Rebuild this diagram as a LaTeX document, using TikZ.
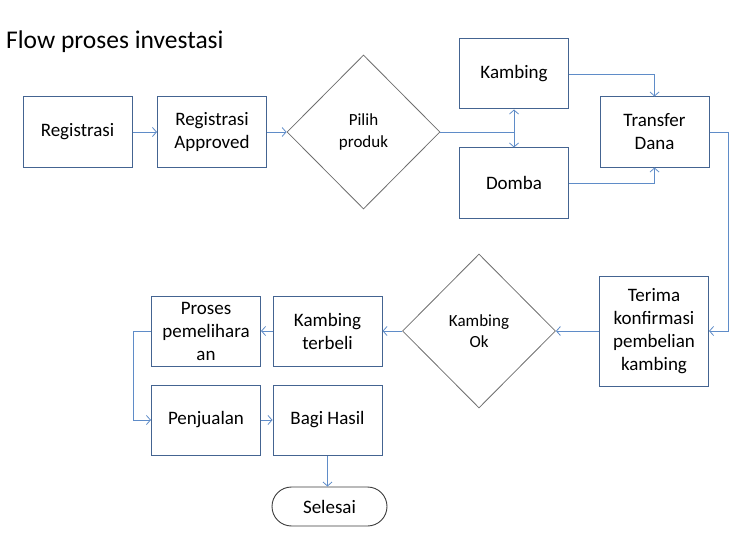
\documentclass[tikz,border=0pt]{standalone}
\usepackage{fontspec}
\setmainfont{Carlito}
\usepackage{tikz}
\usetikzlibrary{shapes.geometric}
\usetikzlibrary{arrows.meta}
\definecolor{garisbox}{RGB}{68,100,145}
\definecolor{garispanah}{RGB}{95,140,200}
\definecolor{garisbelah}{RGB}{110,110,110}
\definecolor{garisakhir}{RGB}{60,60,60}
\tikzset{
  prosesbox/.style={draw=garisbox, line width=1pt, minimum width=109pt, minimum height=70pt, inner sep=0pt, align=center, font=\fontsize{19}{23}\selectfont},
  pilihan/.style={diamond, draw=garisbelah, line width=0.8pt, minimum width=153pt, minimum height=154pt, inner sep=0pt, align=center, font=\fontsize{17}{21.5}\selectfont},
  akhir/.style={draw=garisakhir, line width=0.9pt, rounded corners=19.5pt, minimum width=115pt, minimum height=39pt, inner sep=0pt, font=\fontsize{19}{23}\selectfont},
  garis/.style={draw=garispanah, line width=0.8pt},
  panah/.style={garis, -{Straight Barb[length=4pt,width=9pt]}},
  panahdua/.style={garis, {Straight Barb[length=4pt,width=9pt]}-{Straight Barb[length=4pt,width=9pt]}}
}
\newcommand{\kotak}[4]{\node[prosesbox] (#1) at ( #2 , #3 ) {#4};}
\newcommand{\belah}[4]{\node[pilihan] (#1) at ( #2 , #3 ) {#4};}
\begin{document}
\begin{tikzpicture}[x=1pt,y=-1pt]
        \useasboundingbox (0,0) rectangle (740,543);
        \node[anchor=west, inner sep=0pt, font=\fontsize{25.5}{30}\selectfont] (judul) at (6,42) {Flow proses investasi};

        % row1
        \kotak{registrasi}{77.5}{132}{Registrasi}
        \kotak{approved}{212}{132}{Registrasi\\Approved}
        \belah{pilih}{363.5}{132}{Pilih\\produk}
        \kotak{kambing}{514}{74}{Kambing}
        \kotak{domba}{514}{183}{Domba}
        \kotak{transfer}{654.5}{132}{Transfer\\Dana}

        % row2
        \node[prosesbox, minimum height=110pt] (terima) at (654,331) {Terima\\konfirmasi\\pembelian\\kambing};
        \belah{kambingok}{479}{331}{Kambing\\Ok}
        \kotak{terbeli}{327.5}{331}{Kambing\\terbeli}
        \kotak{proses}{206}{331}{Proses\\pemelihara\\an}

        % row3
        \kotak{penjualan}{206}{420}{Penjualan}
        \kotak{bagihasil}{327.5}{420}{Bagi Hasil}
        \node[akhir] (selesai) at (329.5,506.5) {Selesai};

        % panah
        \draw[panah] (registrasi) -- (approved);
        \draw[panah] (approved) -- (pilih);
        \coordinate (cabang) at (pilih.east -| kambing.south);
        \draw[garis] (pilih.east) -- (cabang);
        \draw[panahdua] (kambing.south) -- (domba.north);
        \draw[panah] (kambing.east) -| (transfer.north);
        \draw[panah] (domba.east) -| (transfer.south);
        \draw[panah] (transfer.east) -- ++(19,0) |- (terima.east);
        \draw[panah] (terima) -- (kambingok);
        \draw[panah] (kambingok) -- (terbeli);
        \draw[panah] (terbeli) -- (proses);
        \draw[panah] (proses.west) -- ++(-18,0) |- (penjualan.west);
        \draw[panah] (penjualan) -- (bagihasil);
        \draw[panah] (bagihasil.south) -- (bagihasil.south |- selesai.north);
\end{tikzpicture}
\end{document}
